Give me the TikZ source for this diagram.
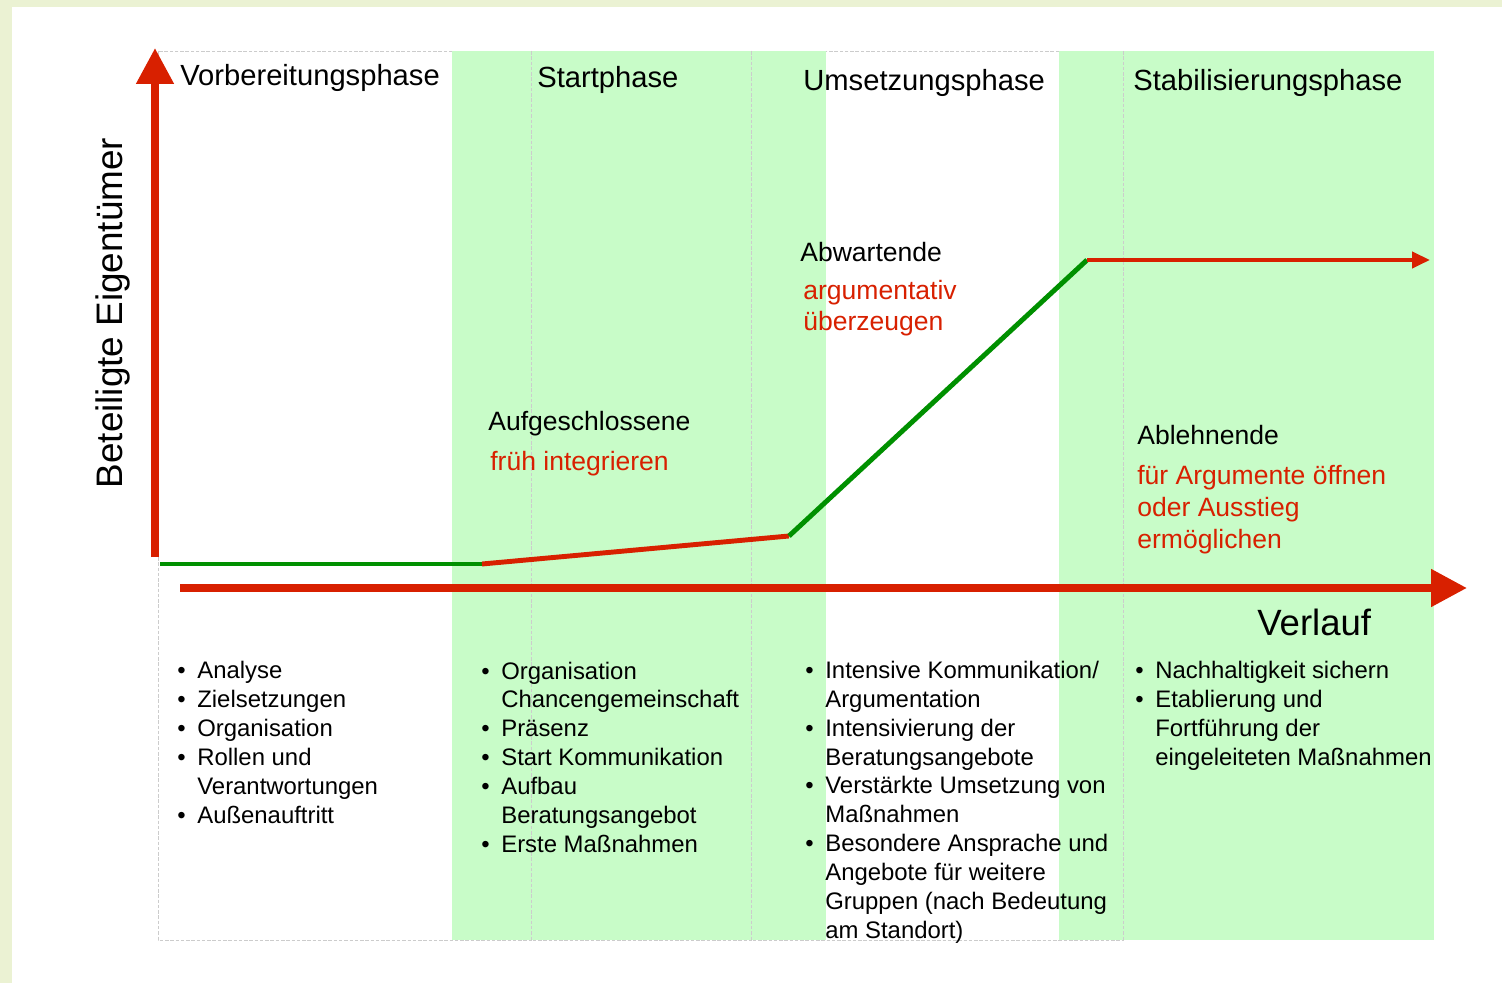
\documentclass[tikz,border=0pt]{standalone}
\usepackage{fontspec}
\setmainfont{Liberation Sans}
\usetikzlibrary{arrows.meta}
\definecolor{framebg}{HTML}{EBF2D3}
\definecolor{phasegreen}{HTML}{C8FCC8}
\definecolor{axisred}{HTML}{D82000}
\definecolor{linegreen}{HTML}{009000}
\newcommand{\bul}{\makebox[0.4cm][l]{\textbullet}}
\newcommand{\ind}{\hspace*{0.4cm}}

\begin{document}
\begin{tikzpicture}[
        x=0.02cm, y=-0.02cm,
        phase/.style={fill=phasegreen, draw=none},
        column/.style={draw=gray!40, dash pattern=on 2pt off 1pt, line width=0.4pt},
        phasehead/.style={anchor=base west, inner sep=0pt, font=\fontsize{16.6}{20}\selectfont},
        group/.style={anchor=base west, inner sep=0pt, font=\fontsize{15.1}{18}\selectfont},
        hint/.style={group, text=axisred, align=left, font=\fontsize{15.1}{18.2}\selectfont},
        items/.style={anchor=base west, inner sep=0pt, align=left, font=\fontsize{13.6}{16.4}\selectfont},
        axisarrow/.style={axisred, line width=4.5pt, -{Triangle[length=0.72cm, width=0.72cm]}},
        trend/.style={line width=2.8pt}
    ]
        \useasboundingbox (0,0) rectangle (1502,983);
        \fill[framebg] (0,0) rectangle (1502,983);
        \fill[white] (12,7) rectangle (1502,983);

        % Columns and phase backgrounds
        \draw[column] (158,51) rectangle (531,940);
        \draw[column] (531,51) rectangle (751,940);
        \draw[column] (751,51) rectangle (1123,940);
        \fill[phase] (452,51) rectangle (826,940);
        \fill[phase] (1059,51) rectangle (1434,940);
        \draw[column] (531,51) -- (531,940);
        \draw[column] (751,51) -- (751,940);
        \draw[column] (1123,51) -- (1123,940);

        % Headers
        \node[phasehead] (prep) at (180,86) {Vorbereitungsphase};
        \node[phasehead] (start) at (537,88) {Startphase};
        \node[phasehead] (impl) at (803,91) {Umsetzungsphase};
        \node[phasehead] (stab) at (1133,91) {Stabilisierungsphase};

        % Axes
        \coordinate (ybot) at (155,557);
        \coordinate (ytop) at (155,48);
        \coordinate (xleft) at (180,588);
        \coordinate (xright) at (1467,588);
        \draw[axisarrow] (ybot) -- (ytop);
        \draw[axisarrow] (xleft) -- (xright);
        \node[rotate=90, inner sep=0pt, font=\fontsize{21}{25}\selectfont] (owners) at (113,313) {Beteiligte Eigentümer};
        \node[anchor=base west, inner sep=0pt, font=\fontsize{20.8}{25}\selectfont] (course) at (1257,635) {Verlauf};

        % Trend line
        \coordinate (t0) at (160,564);
        \coordinate (t1) at (482,564);
        \coordinate (t2) at (789,536);
        \coordinate (t3) at (1087,260);
        \coordinate (t4) at (1430,260);
        \draw[trend, linegreen] (t0) -- (t1);
        \draw[trend, axisred] (t1) -- (t2);
        \draw[trend, linegreen] (t2) -- (t3);
        \draw[trend, axisred, -{Triangle[length=0.36cm, width=0.32cm]}] (t3) -- (t4);

        % Groups of owners (multi-line nodes sit on their last line)
        \node[group] (open) at (488,430) {Aufgeschlossene};
        \node[hint] (openhint) at (490,470) {früh integrieren};
        \node[group] (wait) at (800,262) {Abwartende};
        \node[hint] (waithint) at (803,331) {argumentativ\\überzeugen};
        \node[group] (reject) at (1137,444) {Ablehnende};
        \node[hint] (rejecthint) at (1137,548) {für Argumente öffnen\\oder Ausstieg\\ermöglichen};

        % Tasks per phase
        \node[items] (prepitems) at (177,823) {\bul Analyse\\
            \bul Zielsetzungen\\
            \bul Organisation\\
            \bul Rollen und\\
            \ind Verantwortungen\\
            \bul Außenauftritt};
        \node[items] (startitems) at (481,852) {\bul Organisation\\
            \ind Chancengemeinschaft\\
            \bul Präsenz\\
            \bul Start Kommunikation\\
            \bul Aufbau\\
            \ind Beratungsangebot\\
            \bul Erste Maßnahmen};
        \node[items] (implitems) at (805,938) {\bul Intensive Kommunikation/\\
            \ind Argumentation\\
            \bul Intensivierung der\\
            \ind Beratungsangebote\\
            \bul Verstärkte Umsetzung von\\
            \ind Maßnahmen\\
            \bul Besondere Ansprache und\\
            \ind Angebote für weitere\\
            \ind Gruppen (nach Bedeutung\\
            \ind am Standort)};
        \node[items] (stabitems) at (1135,765) {\bul Nachhaltigkeit sichern\\
            \bul Etablierung und\\
            \ind Fortführung der\\
            \ind eingeleiteten Maßnahmen};

    \end{tikzpicture}
\end{document}
